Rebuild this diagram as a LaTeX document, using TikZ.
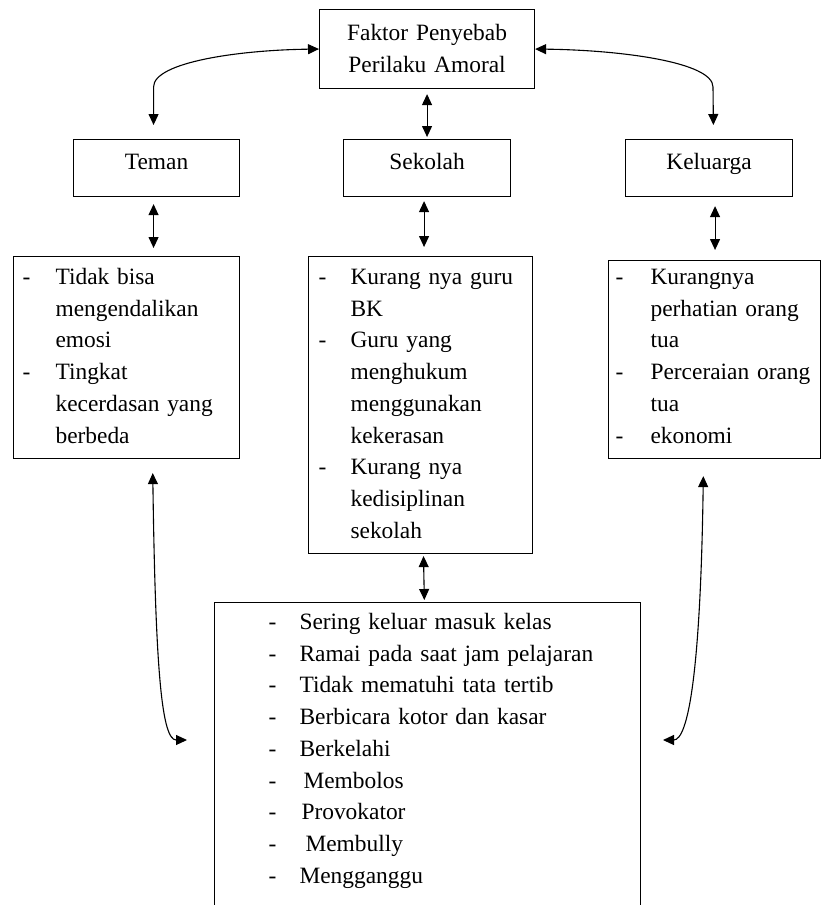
\documentclass[tikz,border=0pt]{standalone}
\usepackage{fontspec}
\setmainfont{Liberation Serif}
\usetikzlibrary{arrows.meta,calc,positioning}
\hyphenpenalty=10000
\newcommand{\butir}[2][32pt]{\hangindent=#1\relax\hangafter=1\relax\makebox[#1][l]{-}#2\par}

\begin{document}
\begin{tikzpicture}[x=1pt,y=-1pt,line width=1.1pt,>={Triangle[width=10pt,length=11pt]},
every node/.style={font=\fontsize{23.4}{31.7}\selectfont},
kotak/.style={draw,anchor=north west,inner sep=0pt,align=center},
daftar/.style={draw,anchor=north west,inner ysep=0pt,align=left}]
\useasboundingbox (0,0) rectangle (827,905);
\clip (0,0) rectangle (827,905);
\node[kotak,text width=215pt,text height=31pt,text depth=48pt] (F) at (319,9) {Faktor Penyebab\\Perilaku Amoral};
\node[kotak,text width=166pt,text height=30pt,text depth=27pt] (T) at (73,139) {Teman};
\node[kotak,text width=167pt,text height=30pt,text depth=27pt] (S) at (343,139) {Sekolah};
\node[kotak,text width=167pt,text height=30pt,text depth=27pt] (K) at (625,139) {Keluarga};
\node[daftar,text width=208pt,inner xsep=9pt,text height=28pt,text depth=174pt] (LT) at (13,256)
{\butir[33pt]{Tidak bisa\newline mengendalikan\newline emosi}\butir[33pt]{Tingkat\newline kecerdasan yang\newline berbeda}};
\node[daftar,text width=204pt,inner xsep=10pt,text height=28pt,text depth=269pt] (LS) at (308,256)
{\butir{Kurang nya guru\newline BK}\butir{Guru yang\newline menghukum\newline menggunakan\newline kekerasan}\butir{Kurang nya\newline kedisiplinan\newline sekolah}};
\node[daftar,text width=198pt,inner xsep=7pt,text height=24pt,text depth=174pt] (LK) at (608,260)
{\butir[35pt]{Kurangnya\newline perhatian orang\newline tua}\butir[35pt]{Perceraian orang\newline tua}\butir[35pt]{ekonomi}};
\node[daftar,text width=406pt,inner xsep=10pt,text height=27pt,text depth=300pt] (B) at (214,602)
{\leftskip=44pt
\butir[31pt]{Sering keluar masuk kelas}\butir[31pt]{Ramai pada saat jam pelajaran}\butir[31pt]{Tidak mematuhi tata tertib}\butir[31pt]{Berbicara kotor dan kasar}\butir[31pt]{Berkelahi}\butir[35pt]{Membolos}\butir[33pt]{Provokator}\butir[37pt]{Membully}\butir[31pt]{Mengganggu}};
\coordinate (ujungKi) at (187,740);
\coordinate (ujungKa) at (663,740);
\path[<->]
(F) edge[shorten <=5pt,shorten >=2pt] (S)
(LS) edge[shorten <=2pt,shorten >=2pt] (B);
\draw[<->,shorten <=7pt,shorten >=8pt] ([xshift=-3pt]T.south) -- ([xshift=-3pt]T.south |- LT.north);
\draw[<->,shorten <=4pt,shorten >=9pt] ([xshift=-3pt]S.south) -- ([xshift=-3pt]S.south |- LS.north);
\draw[<->,shorten <=9pt,shorten >=10pt] ([xshift=6pt]K.south) -- ([xshift=6pt]K.south |- LK.north);
\draw[<->,shorten <=14pt] ([xshift=-3pt]T.north) -- ++(0,-52) .. controls +(0,-25) and (240,50) .. (F.west);
\draw[<->,shorten >=14pt] (F.east) .. controls (620,50) and (713,62) .. (713,87) -- ([xshift=4.5pt]K.north);
\draw[<->,shorten <=14pt] ([xshift=26pt]LT.south) .. controls +(3,215) and +(-25,0) .. (ujungKi);
\draw[<->,shorten <=17pt] ([xshift=-11pt]LK.south) .. controls +(-3,215) and +(25,0) .. (ujungKa);
\end{tikzpicture}
\end{document}
